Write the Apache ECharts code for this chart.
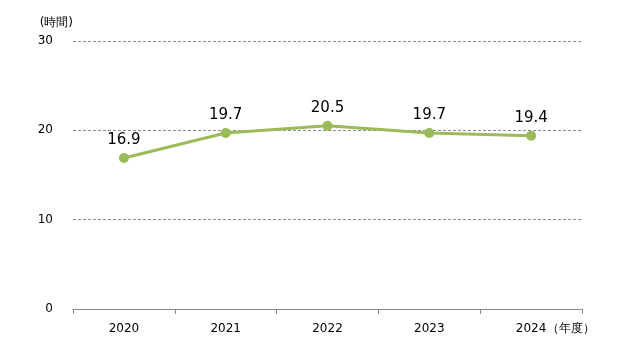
<!DOCTYPE html>
<html><head><meta charset="utf-8">
<script src="https://cdn.jsdelivr.net/npm/echarts@6/dist/echarts.min.js"></script>
<style>html,body{margin:0;padding:0;background:#fff}#c{width:640px;height:350px}</style>
</head><body><div id="c"></div>
<script>
const categories = ['2020','2021','2022','2023','2024'];
const values = [16.9, 19.7, 20.5, 19.7, 19.4];
const yTicks = [0, 10, 20, 30];
const yUnit = '(時間)';
const xUnit = '（年度）';

const chart = echarts.init(document.getElementById('c'), null, {renderer:'canvas'});
const font = '"DejaVu Sans", Verdana, sans-serif';
chart.setOption({
  animation:false,
  grid:{left:73,right:58,top:41,bottom:41},
  xAxis:{type:'category',data:categories,boundaryGap:true,
    axisLine:{lineStyle:{color:'#898989',width:1}},
    axisTick:{show:true,length:5,lineStyle:{color:'#898989'}},
    axisLabel:{color:'#000',fontSize:12,fontFamily:font,margin:14}},
  yAxis:{type:'value',min:yTicks[0],max:yTicks[yTicks.length-1],interval:10,
    name:yUnit,nameLocation:'end',nameGap:12,
    nameTextStyle:{color:'#000',fontSize:12,fontFamily:font,align:'right',padding:[0,0,0,0]},
    axisLine:{show:false},axisTick:{show:false},
    axisLabel:{color:'#000',fontSize:12,fontFamily:font,margin:20},
    splitLine:{lineStyle:{color:'#8c8c8c',type:[3,2],width:1}}},
  graphic:[{type:'text',left:547,top:323,style:{text:xUnit,fill:'#000',font:'12px '+font}}],
  series:[{type:'line',data:values,
    lineStyle:{color:'#9BBB59',width:3},
    itemStyle:{color:'#9BBB59'},
    symbol:'circle',symbolSize:10,
    label:{show:true,position:'top',distance:5,color:'#000',fontSize:15,fontFamily:font}}]
});
</script></body></html>
